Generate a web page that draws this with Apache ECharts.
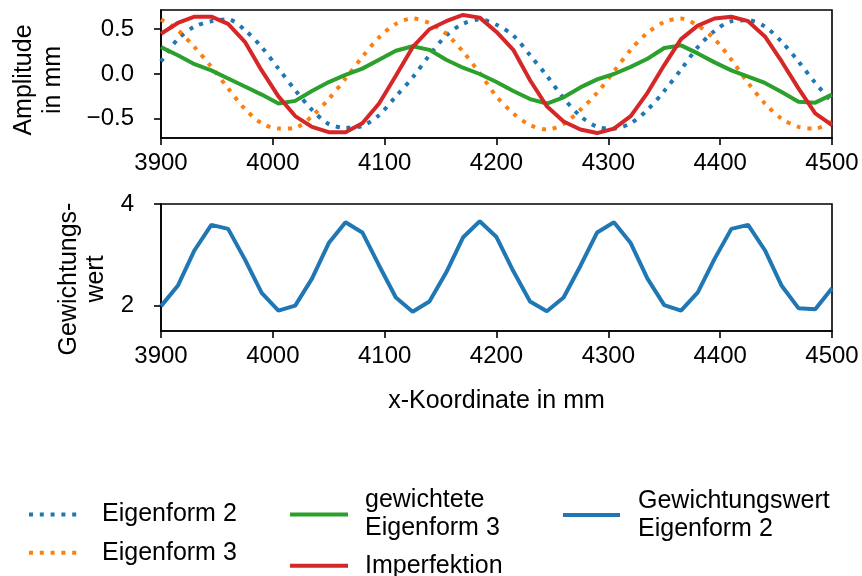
<!DOCTYPE html>
<html>
<head>
<meta charset="utf-8">
<script src="https://cdn.jsdelivr.net/npm/echarts@6/dist/echarts.min.js"></script>
<style>html,body{margin:0;padding:0;background:#fff;}#c{width:862px;height:576px;}</style>
</head>
<body>
<div id="c"></div>
<script>
const xPos = [3900,3915,3930,3945,3960,3975,3990,4005,4020,4035,4050,4065,4080,4095,4110,4125,4140,4155,4170,4185,
  4200,4215,4230,4245,4260,4275,4290,4305,4320,4335,4350,4365,4380,4395,4410,4425,4440,4455,4470,4485,4500];
const eigenform2 = [0.14,0.39,0.53,0.59,0.61,0.49,0.30,0.06,-0.18,-0.40,-0.56,-0.60,-0.58,-0.46,-0.25,-0.04,0.21,0.43,0.56,0.61,
  0.55,0.43,0.21,-0.02,-0.27,-0.47,-0.59,-0.61,-0.55,-0.40,-0.19,0.05,0.30,0.48,0.59,0.60,0.53,0.36,0.14,-0.10,-0.31];
const eigenform3 = [0.61,0.49,0.30,0.08,-0.16,-0.39,-0.55,-0.61,-0.60,-0.47,-0.28,-0.05,0.19,0.41,0.56,0.62,0.57,0.45,0.25,0.01,
  -0.25,-0.44,-0.57,-0.62,-0.56,-0.40,-0.21,0.03,0.27,0.46,0.58,0.62,0.54,0.39,0.16,-0.10,-0.33,-0.50,-0.59,-0.61,-0.53];
const gewichteteEigenform3 = [0.30,0.21,0.11,0.04,-0.05,-0.14,-0.23,-0.33,-0.30,-0.19,-0.09,-0.01,0.06,0.16,0.26,0.31,0.27,0.16,0.07,0.00,
  -0.09,-0.19,-0.28,-0.33,-0.26,-0.15,-0.06,0.00,0.08,0.17,0.29,0.32,0.23,0.13,0.04,-0.03,-0.10,-0.20,-0.31,-0.32,-0.23];
const imperfektion = [0.45,0.57,0.64,0.64,0.56,0.36,0.04,-0.25,-0.47,-0.59,-0.65,-0.65,-0.55,-0.33,-0.02,0.30,0.50,0.59,0.66,0.63,
  0.47,0.27,-0.07,-0.36,-0.53,-0.62,-0.66,-0.61,-0.47,-0.21,0.10,0.39,0.54,0.62,0.64,0.59,0.42,0.14,-0.16,-0.44,-0.57];
const gewichtungswert = [1.99,2.39,3.09,3.59,3.51,2.91,2.25,1.90,2.00,2.53,3.23,3.64,3.44,2.79,2.16,1.88,2.08,2.65,3.34,3.66,
  3.35,2.68,2.08,1.89,2.16,2.78,3.44,3.64,3.23,2.53,2.01,1.90,2.26,2.92,3.51,3.59,3.09,2.39,1.95,1.93,2.34];
const topYTicks = [-0.5, 0, 0.5];
const bottomYTicks = [2, 4];
const names = ['Eigenform 2', 'Eigenform 3', 'gewichtete\nEigenform 3', 'Imperfektion', 'Gewichtungswert\nEigenform 2'];
const colors = ['#1f77b4', '#ff7f0e', '#2ca02c', '#d62728', '#1f77b4'];

const FONT = 'Liberation Sans';
const pairs = arr => xPos.map((x, i) => [x, arr[i]]);

const axisLineStyle = {show: true, onZero: false, lineStyle: {color: '#000', width: 1.6}};
const tickStyle = {show: true, inside: false, length: 7, lineStyle: {color: '#000', width: 1.6}};
const labelBase = {color: '#000', fontFamily: FONT, fontSize: 24};

function xAx(gridIndex, extra) {
  return Object.assign({
    type: 'value', gridIndex, min: 3900, max: 4500, interval: 100,
    axisLine: axisLineStyle, axisTick: tickStyle,
    axisLabel: Object.assign({margin: 13, formatter: v => String(v)}, labelBase),
    splitLine: {show: false}
  }, extra || {});
}

const legendCommon = {
  orient: 'vertical', itemHeight: 14, padding: 0,
  itemStyle: {opacity: 0, borderWidth: 0},
  lineStyle: {width: 4, cap: 'butt'}
};
const legendText = pad => ({color: '#000', fontFamily: FONT, fontSize: 25, lineHeight: 28, padding: [0, 0, 0, pad]});

const option = {
  animation: false,
  backgroundColor: '#fff',
  grid: [
    {left: 161, width: 671, top: 10, height: 128, show: true, borderColor: '#000', borderWidth: 1.6, backgroundColor: 'transparent'},
    {left: 161, width: 671, top: 204, height: 127, show: true, borderColor: '#000', borderWidth: 1.6, backgroundColor: 'transparent'}
  ],
  xAxis: [
    xAx(0),
    xAx(1, {name: 'x-Koordinate in mm', nameLocation: 'middle', nameGap: 58,
      nameTextStyle: {color: '#000', fontFamily: FONT, fontSize: 25}})
  ],
  yAxis: [
    {type: 'value', gridIndex: 0, min: -0.715, max: 0.715,
      axisLine: axisLineStyle,
      axisTick: Object.assign({}, tickStyle, {customValues: topYTicks}),
      axisLabel: Object.assign({margin: 27, customValues: topYTicks,
        formatter: v => v.toFixed(1).replace('-', '\u2212')}, labelBase),
      splitLine: {show: false}},
    {type: 'value', gridIndex: 1, min: 1.5, max: 4,
      axisLine: axisLineStyle,
      axisTick: Object.assign({}, tickStyle, {customValues: bottomYTicks}),
      axisLabel: Object.assign({margin: 27, customValues: bottomYTicks,
        formatter: v => String(Math.round(v))}, labelBase),
      splitLine: {show: false}}
  ],
  legend: [
    Object.assign({data: [names[0], names[1]], left: 27, top: 500.5, itemWidth: 53, itemGap: 10.3,
      textStyle: legendText(15)}, legendCommon),
    Object.assign({data: [names[2], names[3]], left: 288, top: 486.5, itemWidth: 58, itemGap: 9.2,
      textStyle: legendText(12)}, legendCommon),
    Object.assign({data: [names[4]], left: 561, top: 487, itemWidth: 57,
      textStyle: legendText(13)}, legendCommon)
  ],
  graphic: [
    {type: 'text', x: 39, y: 80, rotation: Math.PI / 2,
      style: {text: 'Amplitude\nin mm', fill: '#000', font: '25px "Liberation Sans"', lineHeight: 29,
        textAlign: 'center', textVerticalAlign: 'middle', align: 'center', verticalAlign: 'middle'}},
    {type: 'text', x: 83, y: 279, rotation: Math.PI / 2,
      style: {text: 'Gewichtungs-\nwert', fill: '#000', font: '25px "Liberation Sans"', lineHeight: 27,
        textAlign: 'center', textVerticalAlign: 'middle', align: 'center', verticalAlign: 'middle'}}
  ],
  series: [
    {name: names[0], type: 'line', xAxisIndex: 0, yAxisIndex: 0, data: pairs(eigenform2), symbol: 'none', smooth: 0.3,
      color: colors[0], lineStyle: {color: colors[0], width: 4, type: [4, 6.8], cap: 'butt'}},
    {name: names[1], type: 'line', xAxisIndex: 0, yAxisIndex: 0, data: pairs(eigenform3), symbol: 'none', smooth: 0.3,
      color: colors[1], lineStyle: {color: colors[1], width: 4, type: [4, 6.8], cap: 'butt'}},
    {name: names[2], type: 'line', xAxisIndex: 0, yAxisIndex: 0, data: pairs(gewichteteEigenform3), symbol: 'none',
      color: colors[2], lineStyle: {color: colors[2], width: 4}},
    {name: names[3], type: 'line', xAxisIndex: 0, yAxisIndex: 0, data: pairs(imperfektion), symbol: 'none',
      color: colors[3], lineStyle: {color: colors[3], width: 4}},
    {name: names[4], type: 'line', xAxisIndex: 1, yAxisIndex: 1, data: pairs(gewichtungswert), symbol: 'none',
      color: colors[4], lineStyle: {color: colors[4], width: 4}}
  ]
};

const chart = echarts.init(document.getElementById('c'), null, {renderer: 'canvas'});
chart.setOption(option);
</script>
</body>
</html>
